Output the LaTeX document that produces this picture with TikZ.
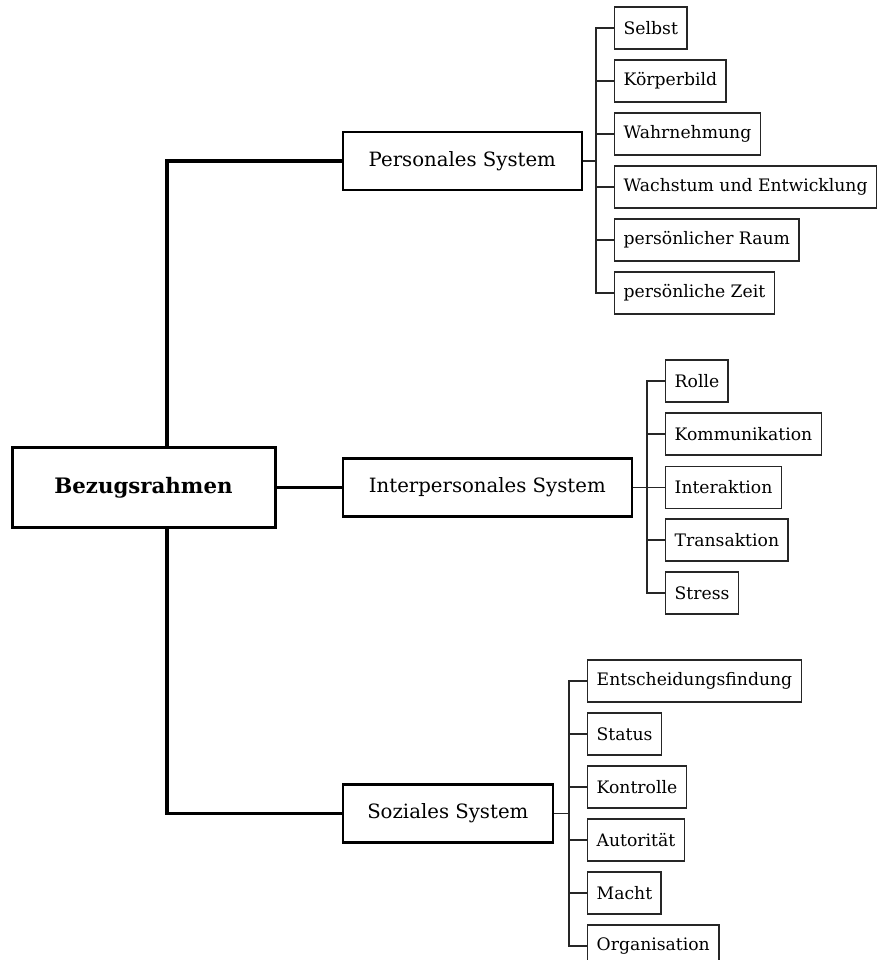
\documentclass[tikz,border=0pt]{standalone}
\usepackage{fontspec}
\setmainfont{DejaVu Serif}
\begin{document}
\begin{tikzpicture}[x=1pt,y=-1pt,
    root/.style={draw,line width=3pt,minimum width=263pt,minimum height=80pt,font=\fontsize{21.3}{25}\selectfont\bfseries},
    sys/.style={draw,line width=2.6pt,minimum height=58pt,anchor=west,font=\fontsize{19.7}{23}\selectfont},
    item/.style={draw=black!85,line width=1.4pt,minimum height=42pt,inner xsep=9pt,anchor=west,font=\fontsize{17.2}{20}\selectfont},
    trunk/.style={line width=3.4pt},
    twig/.style={draw=black!85,line width=1.4pt}]
    \useasboundingbox (0,0) rectangle (877,960);
    \node[root] (root) at (143.5,487.5) {Bezugsrahmen};
    \node[sys,minimum width=239pt] (ps) at (341.5,161) {Personales System};
    \node[sys,minimum width=289pt] (is) at (341.5,487.5) {Interpersonales System};
    \node[sys,minimum width=210pt] (ss) at (341.5,813.5) {Soziales System};
    \coordinate (tr) at (167,0);
    \draw[trunk](root.north -| tr) |- (ps.west);
    \draw[trunk](root.south -| tr) |- (ss.west);
    \draw[trunk](root.east) -- (is.west);
    % Personales System
    \node[item] (p1) at (614,28) {Selbst};
    \node[item] (p2) at (614,81) {Körperbild};
    \node[item] (p3) at (614,134) {Wahrnehmung};
    \node[item] (p4) at (614,187) {Wachstum und Entwicklung};
    \node[item] (p5) at (614,240) {persönlicher Raum};
    \node[item] (p6) at (614,293) {persönliche Zeit};
    \coordinate (psp) at (596,0);
    \draw[twig](ps.east) -- (ps.east -| psp);
    \draw[twig](p1.west) -| (p6.west -| psp) -- (p6.west);
    \draw[twig](p2.west) -- (p2.west -| psp);\draw[twig](p3.west) -- (p3.west -| psp);
    \draw[twig](p4.west) -- (p4.west -| psp);\draw[twig](p5.west) -- (p5.west -| psp);
    % Interpersonales System
    \node[item] (i1) at (665,381) {Rolle};
    \node[item] (i2) at (665,434) {Kommunikation};
    \node[item] (i3) at (665,487.5) {Interaktion};
    \node[item] (i4) at (665,540) {Transaktion};
    \node[item] (i5) at (665,593) {Stress};
    \coordinate (isp) at (647,0);
    \draw[twig](is.east) -- (is.east -| isp);
    \draw[twig](i1.west) -| (i5.west -| isp) -- (i5.west);
    \draw[twig](i2.west) -- (i2.west -| isp);\draw[twig](i3.west) -- (i3.west -| isp);
    \draw[twig](i4.west) -- (i4.west -| isp);
    % Soziales System
    \node[item] (s1) at (587,681) {Entscheidungsfindung};
    \node[item] (s2) at (587,734) {Status};
    \node[item] (s3) at (587,787) {Kontrolle};
    \node[item] (s4) at (587,840) {Autorität};
    \node[item] (s5) at (587,893) {Macht};
    \node[item] (s6) at (587,946) {Organisation};
    \coordinate (ssp) at (569,0);
    \draw[twig](ss.east) -- (ss.east -| ssp);
    \draw[twig](s1.west) -| (s6.west -| ssp) -- (s6.west);
    \draw[twig](s2.west) -- (s2.west -| ssp);\draw[twig](s3.west) -- (s3.west -| ssp);
    \draw[twig](s4.west) -- (s4.west -| ssp);\draw[twig](s5.west) -- (s5.west -| ssp);
\end{tikzpicture}
\end{document}
